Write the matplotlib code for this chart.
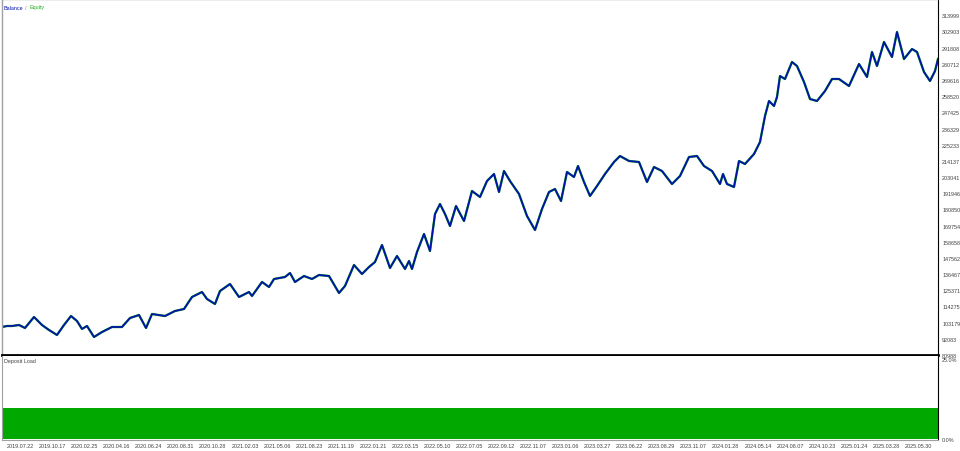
import numpy as np
import matplotlib.pyplot as plt

plt.rcParams['font.family'] = ['Liberation Sans', 'DejaVu Sans']

# номер сделки (по оси X) и баланс
trade = [0, 5, 10, 17, 23, 32, 40, 47, 55, 62, 69, 75, 80, 85, 92, 100, 110, 120, 128, 137,
         144, 150, 163, 173, 182, 190, 200, 205, 213, 218, 228, 237, 247, 250, 260, 267, 272,
         283, 288, 293, 302, 310, 317, 327, 337, 343, 352, 360, 367, 373, 380, 388, 395, 403,
         407, 410, 415, 422, 428, 433, 438, 443, 448, 454, 462, 470, 478, 485, 492, 497, 502,
         508, 517, 525, 533, 540, 547, 553, 559, 565, 572, 576, 582, 588, 595, 603, 612, 618,
         627, 637, 645, 652, 660, 670, 678, 687, 695, 702, 710, 718, 721, 725, 732, 737, 743,
         752, 758, 763, 767, 772, 775, 778, 783, 790, 795, 802, 808, 815, 823, 830, 837, 847,
         857, 865, 870, 875, 882, 890, 895, 902, 910, 915, 922, 928, 933, 936]
balance = [100173, 100859, 100859, 101545, 99487, 107033, 101545, 98115, 94685, 101545,
           107719, 104289, 98801, 100859, 93313, 96743, 100173, 100173, 106347, 108405,
           99487, 109091, 107719, 111149, 112521, 120753, 124183, 119381, 115951, 124869,
           129671, 120753, 124183, 121439, 131043, 127613, 133101, 134473, 137217, 131043,
           135159, 133101, 135845, 135159, 123497, 128299, 142705, 136531, 141333, 144763,
           156425, 140647, 148879, 139961, 145449, 139961, 151623, 163971, 152309, 177691,
           184551, 177691, 169459, 183179, 172889, 193469, 189353, 200329, 205131, 192783,
           207189, 200329, 191411, 176319, 166715, 181121, 192783, 194841, 186609, 206503,
           203073, 210619, 199643, 190039, 196899, 205131, 213363, 217479, 214049, 213363,
           199643, 209933, 207189, 198271, 203759, 216793, 217479, 210619, 207189, 198271,
           205131, 198271, 196213, 214049, 211991, 218851, 227083, 244919, 255209, 251779,
           257953, 272359, 270301, 281963, 279219, 268243, 256581, 255209, 262069, 270301,
           270301, 265499, 280591, 271673, 288823, 279219, 295683, 285393, 302543, 284021,
           290881, 288823, 275103, 268929, 275789, 284021]

# загрузка депозита, %
load_trade = [0, 60, 120, 180, 240, 300, 360, 420, 480, 540, 600, 660, 720, 780, 840, 900, 936]
deposit_load = [9.7, 9.6, 9.7, 9.6, 9.7, 9.7, 9.6, 9.7, 9.6, 9.7, 9.7, 9.6, 9.7, 9.6, 9.7, 9.6, 9.6]

y_ticks = [80988, 92083, 103179, 114275, 125371, 136467, 147562, 158658, 169754, 180850,
           191946, 203041, 214137, 225233, 236329, 247425, 258520, 269616, 280712, 291808,
           302903, 313999]
x_tick_pos = [18, 50, 82, 114, 146, 178, 210, 243, 275, 307, 339, 371, 403, 435, 467, 499,
              531, 563, 595, 627, 659, 691, 723, 756, 788, 820, 852, 884, 916]
x_tick_labels = ['2019.07.22', '2019.10.17', '2020.02.25', '2020.04.16', '2020.06.24',
                 '2020.08.31', '2020.10.28', '2021.02.03', '2021.05.06', '2021.08.23',
                 '2021.11.19', '2022.01.21', '2022.03.15', '2022.05.10', '2022.07.05',
                 '2022.09.12', '2022.11.07', '2023.01.06', '2023.03.27', '2023.06.22',
                 '2023.08.29', '2023.11.07', '2024.01.28', '2024.05.14', '2024.08.07',
                 '2024.10.23', '2025.01.24', '2025.03.28', '2025.05.30']

W, H = 960, 452
fig = plt.figure(figsize=(W / 100, H / 100), dpi=100)
fs = 3.9
txt_col = '#404040'

# верхняя панель: баланс / эквити
ax = fig.add_axes([2 / W, (H - 356) / H, 936 / W, 356 / H])
ax.plot(trade, balance, color='#22aa22', linewidth=1.7)
ax.plot(trade, balance, color='#0014a8', linewidth=1.3)
ax.set_xlim(0, 936)
ax.set_ylim(80965, 325181)
ax.yaxis.tick_right()
ax.set_yticks(y_ticks)
ax.set_yticklabels([str(v) for v in y_ticks], fontsize=fs, color=txt_col)
ax.tick_params(axis='y', length=0, pad=3)
ax.set_xticks([])
for s in ['left', 'top']:
    ax.spines[s].set_color('#a0a0a0')
    ax.spines[s].set_linewidth(1)
ax.spines['right'].set_color('black')
ax.spines['bottom'].set_color('black')
ax.spines['bottom'].set_linewidth(2)

fig.text(4 / W, 1 - 8 / H, 'Balance', fontsize=fs, color='#0014a8', va='center', ha='left')
fig.text(25 / W, 1 - 8 / H, '/', fontsize=fs, color='#808080', va='center', ha='left')
fig.text(29 / W, 1 - 8 / H, 'Equity', fontsize=fs, color='#22aa22', va='center', ha='left')

# нижняя панель: загрузка депозита
ax2 = fig.add_axes([2 / W, (H - 441) / H, 936 / W, (441 - 357) / H])
ax2.fill_between(load_trade, 0, deposit_load, step='post', color='#00a800', linewidth=0)
ax2.set_xlim(0, 936)
ax2.set_ylim(-0.3, 25.8)
ax2.yaxis.tick_right()
ax2.set_yticks([0, 25])
ax2.set_yticklabels(['0.0%', '25.0%'], fontsize=fs, color=txt_col)
ax2.tick_params(axis='y', length=0, pad=3)
ax2.set_xticks(x_tick_pos)
ax2.set_xticklabels(x_tick_labels, fontsize=fs, color=txt_col)
ax2.tick_params(axis='x', length=0, pad=2)
ax2.spines['left'].set_color('#a0a0a0')
ax2.spines['top'].set_visible(False)
ax2.spines['right'].set_color('black')
ax2.spines['bottom'].set_color('#a0a0a0')
fig.text(4 / W, 1 - 362 / H, 'Deposit Load', fontsize=fs, color=txt_col, va='center', ha='left')

fig.savefig('out.png', dpi=100)
